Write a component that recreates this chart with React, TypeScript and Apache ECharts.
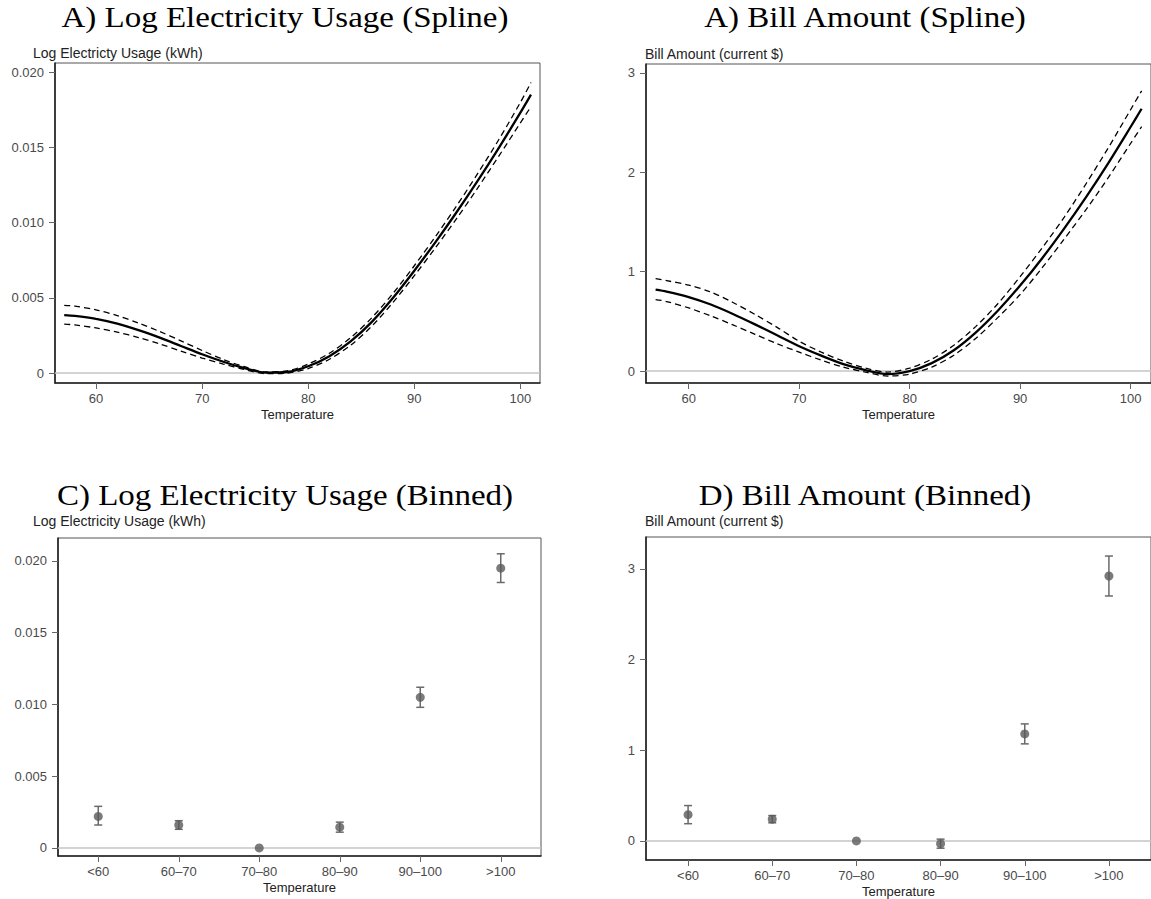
import React, { useEffect, useRef } from "react";
import * as echarts from "echarts";

// ---------- Spline panels (A, B) ----------
const splineTemps = [57, 58, 60, 62, 64, 66, 68, 70, 72, 74, 76, 78, 80, 82, 84, 86, 88, 90, 92, 94, 96, 98, 100, 101];

const usageCenter = [0.00385, 0.0038, 0.0036, 0.00328, 0.00285, 0.00235, 0.0018, 0.00125, 0.00075, 0.00033, 0.00003, 0.00007, 0.00045, 0.00112, 0.0021, 0.0034, 0.005, 0.0068, 0.0087, 0.0107, 0.0128, 0.015, 0.0173, 0.0185];
const usageUpper = [0.0045, 0.00445, 0.0042, 0.00382, 0.00332, 0.00276, 0.00214, 0.0015, 0.0009, 0.00042, 0.00008, 0.00014, 0.0006, 0.00132, 0.00235, 0.00368, 0.0053, 0.00713, 0.00907, 0.01112, 0.01328, 0.01555, 0.01798, 0.0193];
const usageLower = [0.00325, 0.0032, 0.003, 0.00272, 0.00236, 0.00194, 0.00146, 0.001, 0.0006, 0.00024, -0.00004, 0.0, 0.0003, 0.00092, 0.00185, 0.00312, 0.0047, 0.00647, 0.00833, 0.01028, 0.01232, 0.01445, 0.01662, 0.0177];

const billCenter = [0.82, 0.8, 0.745, 0.67, 0.575, 0.47, 0.36, 0.25, 0.155, 0.07, 0.01, -0.03, 0.0, 0.08, 0.21, 0.39, 0.61, 0.86, 1.136, 1.436, 1.756, 2.096, 2.456, 2.64];
const billUpper = [0.93, 0.91, 0.865, 0.795, 0.69, 0.57, 0.44, 0.3, 0.19, 0.1, 0.03, -0.01, 0.03, 0.12, 0.26, 0.45, 0.68, 0.95, 1.24, 1.55, 1.89, 2.25, 2.63, 2.82];
const billLower = [0.72, 0.7, 0.635, 0.555, 0.465, 0.37, 0.275, 0.19, 0.11, 0.04, -0.01, -0.05, -0.03, 0.04, 0.16, 0.33, 0.54, 0.77, 1.04, 1.33, 1.63, 1.95, 2.29, 2.46];

const tempTicks = [60, 70, 80, 90, 100];
const usageTicks = [0, 0.005, 0.01, 0.015, 0.02];
const billTicks = [0, 1, 2, 3];

// ---------- Binned panels (C, D) ----------
const bins = ["<60", "60\u201370", "70\u201380", "80\u201390", "90\u2013100", ">100"];
const usageBinEst = [0.0022, 0.0016, 0.0, 0.00145, 0.0105, 0.0195];
const usageBinLo = [0.0016, 0.0013, null, 0.0011, 0.0098, 0.0185];
const usageBinHi = [0.0029, 0.0019, null, 0.0018, 0.0112, 0.0205];

const billBinEst = [0.29, 0.24, 0.0, -0.03, 1.18, 2.92];
const billBinLo = [0.19, 0.2, null, -0.08, 1.07, 2.7];
const billBinHi = [0.39, 0.28, null, 0.02, 1.29, 3.14];

const titles = [
  "A) Log Electricity Usage (Spline)",
  "A) Bill Amount (Spline)",
  "C) Log Electricity Usage (Binned)",
  "D) Bill Amount (Binned)",
];
const yNames = [
  "Log Electricty Usage (kWh)",
  "Bill Amount (current $)",
  "Log Electricity Usage (kWh)",
  "Bill Amount (current $)",
];

const SANS = '"Liberation Sans", Arial, sans-serif';
const LABEL_COLOR = "#4a4a4a";

const usageFmt = (v: number) => (v === 0 ? "0" : v.toFixed(3));
const billFmt = (v: number) => String(Math.round(v));

function valueXAxis(gridIndex: number) {
  return {
    type: "value",
    gridIndex,
    min: 56.13,
    max: 101.85,
    axisLine: { show: true, onZero: false, lineStyle: { color: "#222", width: 1.6 } },
    axisTick: { show: true, customValues: tempTicks, length: 6, lineStyle: { color: "#666", width: 1 } },
    axisLabel: { customValues: tempTicks, color: LABEL_COLOR, fontSize: 13, fontFamily: SANS, margin: 9 },
    splitLine: { show: false },
    name: "Temperature",
    nameLocation: "middle",
    nameGap: 25,
    nameTextStyle: { color: "#222", fontSize: 13, fontFamily: SANS },
  };
}

function catXAxis(gridIndex: number) {
  return {
    type: "category",
    gridIndex,
    data: bins,
    boundaryGap: true,
    axisLine: { show: true, onZero: false, lineStyle: { color: "#222", width: 1.6 } },
    axisTick: { show: true, alignWithLabel: true, length: 6, lineStyle: { color: "#666", width: 1 } },
    axisLabel: { color: LABEL_COLOR, fontSize: 13, fontFamily: SANS, margin: 9, interval: 0 },
    splitLine: { show: false },
    name: "Temperature",
    nameLocation: "middle",
    nameGap: 25,
    nameTextStyle: { color: "#222", fontSize: 13, fontFamily: SANS },
  };
}

function yAxis(gridIndex: number, min: number, max: number, ticks: number[], fmt: (v: number) => string) {
  return {
    type: "value",
    gridIndex,
    min,
    max,
    axisLine: { show: true, onZero: false, lineStyle: { color: "#222", width: 1.6 } },
    axisTick: { show: true, customValues: ticks, length: 6, lineStyle: { color: "#666", width: 1 } },
    axisLabel: { customValues: ticks, color: LABEL_COLOR, fontSize: 13, fontFamily: SANS, margin: 11, formatter: fmt },
    splitLine: { show: false },
  };
}

const zeroLine = {
  silent: true,
  symbol: "none",
  label: { show: false },
  lineStyle: { color: "#c4c4c4", width: 1.5, type: "solid" },
  data: [{ yAxis: 0 }],
  z: 1,
};

function splineSeries(idx: number, center: number[], upper: number[], lower: number[]) {
  const toPts = (arr: number[]) => splineTemps.map((t, i) => [t, arr[i]]);
  const common = { type: "line", xAxisIndex: idx, yAxisIndex: idx, showSymbol: false, smooth: 0.3, silent: true };
  return [
    { ...common, data: toPts(lower), lineStyle: { color: "#000", width: 1.3, type: [6, 4] }, markLine: zeroLine, z: 3 },
    { ...common, data: toPts(upper), lineStyle: { color: "#000", width: 1.3, type: [6, 4] }, z: 3 },
    { ...common, data: toPts(center), lineStyle: { color: "#000", width: 2.3 }, z: 4 },
  ];
}

function binnedSeries(idx: number, est: number[], lo: (number | null)[], hi: (number | null)[]) {
  const bars: number[][] = [];
  bins.forEach((_, i) => {
    if (lo[i] !== null && hi[i] !== null) bars.push([i, lo[i] as number, hi[i] as number]);
  });
  return [
    {
      type: "custom",
      xAxisIndex: idx,
      yAxisIndex: idx,
      silent: true,
      z: 3,
      encode: { x: 0, y: [1, 2] },
      data: bars,
      renderItem: (params: any, api: any) => {
        const x = api.value(0);
        const p1 = api.coord([x, api.value(1)]);
        const p2 = api.coord([x, api.value(2)]);
        const w = 4;
        const st = { stroke: "#6a6a6a", lineWidth: 1.5 };
        return {
          type: "group",
          children: [
            { type: "line", shape: { x1: p1[0], y1: p1[1], x2: p2[0], y2: p2[1] }, style: st },
            { type: "line", shape: { x1: p1[0] - w, y1: p1[1], x2: p1[0] + w, y2: p1[1] }, style: st },
            { type: "line", shape: { x1: p2[0] - w, y1: p2[1], x2: p2[0] + w, y2: p2[1] }, style: st },
          ],
        };
      },
    },
    {
      type: "scatter",
      xAxisIndex: idx,
      yAxisIndex: idx,
      silent: true,
      z: 4,
      symbol: "circle",
      symbolSize: 9,
      itemStyle: { color: "#5a5a5a" },
      data: est.map((v, i) => [i, v]),
      markLine: zeroLine,
    },
  ];
}

function titleText(text: string, x: number, y: number) {
  return {
    type: "text",
    x,
    y,
    scaleX: 1.1,
    style: {
      text,
      font: '30px "Liberation Serif", "Times New Roman", serif',
      fill: "#000",
      textAlign: "center",
      textVerticalAlign: "middle",
    },
  };
}

function nameText(text: string, x: number, y: number) {
  return {
    type: "text",
    x,
    y,
    style: {
      text,
      font: '14px "Liberation Sans", Arial, sans-serif',
      fill: "#222",
      textAlign: "left",
      textVerticalAlign: "middle",
    },
  };
}

export default function App() {
  const ref = useRef<HTMLDivElement>(null);
  useEffect(() => {
    if (!ref.current) return;
    const chart = echarts.init(ref.current, undefined, { renderer: "svg" });
    const option = {
      animation: false,
      backgroundColor: "#fff",
      grid: [
        { left: 55, top: 63, width: 485, height: 320, show: true, borderColor: "#555", borderWidth: 1 },
        { left: 646, top: 64, width: 511, height: 319, show: true, borderColor: "#555", borderWidth: 1 },
        { left: 58, top: 538, width: 483, height: 318, show: true, borderColor: "#555", borderWidth: 1 },
        { left: 646, top: 537, width: 510, height: 325, show: true, borderColor: "#555", borderWidth: 1 },
      ],
      xAxis: [valueXAxis(0), valueXAxis(1), catXAxis(2), catXAxis(3)],
      yAxis: [
        yAxis(0, -0.00066, 0.0206, usageTicks, usageFmt),
        yAxis(1, -0.12, 3.09, billTicks, billFmt),
        yAxis(2, -0.00056, 0.0216, usageTicks, usageFmt),
        yAxis(3, -0.21, 3.35, billTicks, billFmt),
      ],
      series: [
        ...splineSeries(0, usageCenter, usageUpper, usageLower),
        ...splineSeries(1, billCenter, billUpper, billLower),
        ...binnedSeries(2, usageBinEst, usageBinLo, usageBinHi),
        ...binnedSeries(3, billBinEst, billBinLo, billBinHi),
      ],
      graphic: [
        titleText(titles[0], 285, 17),
        titleText(titles[1], 865, 17),
        titleText(titles[2], 285, 495),
        titleText(titles[3], 865, 495),
        nameText(yNames[0], 33, 53),
        nameText(yNames[1], 645, 54),
        nameText(yNames[2], 33, 521),
        nameText(yNames[3], 645, 521),
      ],
    };
    chart.setOption(option as any);
    return () => chart.dispose();
  }, []);
  return (
    <div
      ref={ref}
      style={{ position: "absolute", left: 0, top: 0, width: 1151, height: 899, background: "#fff" }}
    />
  );
}
